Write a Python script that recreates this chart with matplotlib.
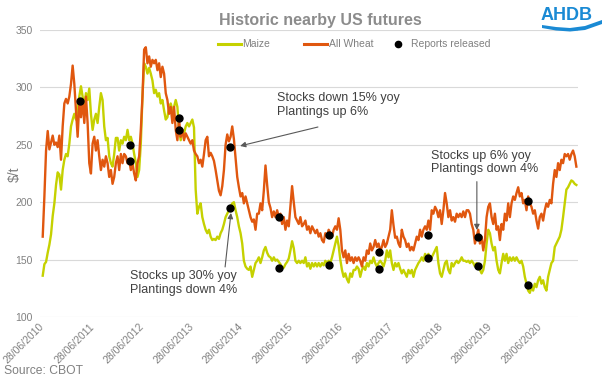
import matplotlib
matplotlib.use("Agg")
import matplotlib.pyplot as plt
import matplotlib.dates as mdates
from matplotlib.lines import Line2D
from matplotlib.patches import Polygon
import pandas as pd

plt.rcParams["font.family"] = ["Liberation Sans", "DejaVu Sans"]

# observations run evenly from first to last date
series_start = "2010-06-29"
series_end = "2021-03-18"

maize = [
    136, 146, 148, 156, 163, 172, 188, 199, 215, 226,
    224, 211, 228, 237, 242, 240, 251, 266, 272, 277,
    272, 283, 292, 301, 292, 283, 295, 289, 299, 277,
    263, 272, 277, 269, 283, 295, 289, 266, 254, 256,
    240, 234, 231, 242, 256, 256, 245, 254, 251, 257,
    254, 263, 254, 257, 251, 242, 234, 222, 228, 251,
    292,
    321, 318, 312, 317, 312, 306, 295, 298, 292, 295,
    286, 289, 280, 272, 274, 283, 286, 280, 283, 289,
    283, 263, 254, 263, 260, 266, 269, 266, 269, 272,
    265, 211, 190, 196, 199, 187, 181, 176, 173, 176,
    170, 167, 168, 167, 170, 168, 173, 176, 181, 187,
    190, 193, 196, 199, 200, 193, 187, 179, 173, 164,
    149, 144, 142, 141, 144,
    135, 141, 147, 149, 152, 147, 152, 158, 161, 156,
    153, 152, 149, 152, 149, 150, 148, 146, 143, 143,
    146, 148, 151, 158, 166, 160, 149, 147, 149, 147,
    149, 147, 152, 144, 147, 142, 147, 144, 147, 144,
    147, 144, 147, 145, 149, 147, 149, 147, 152, 158,
    164, 170, 162, 150, 141, 135, 138, 133, 130, 138,
    135, 141, 141, 144, 142,
    135, 141, 144, 141, 147, 144, 149, 147, 152, 147,
    144, 147, 149, 147, 144, 149, 158, 152, 158, 147,
    141, 147, 144, 147, 142, 138, 141, 138, 135, 141,
    138, 141, 135, 141, 144, 147, 149, 152, 149, 155,
    152, 155, 149, 152, 155, 158, 161, 147, 138, 135,
    141, 147, 149, 141, 138, 147, 144, 147, 149, 147,
    149, 152, 149, 149, 148,
    149, 147, 149, 147, 144, 147, 144, 141, 138, 141,
    149, 164, 176, 173, 164, 158, 161, 149, 141, 138,
    147, 155, 149, 155, 147, 152, 149, 152, 149, 152,
    149, 147, 149, 144, 135, 129, 123, 121, 126, 123,
    129, 126, 132, 135, 129, 132, 126, 123, 135, 141,
    147, 149, 161, 164, 167, 170, 176, 187, 199, 211,
    213, 216, 219, 218, 216, 215,
]

wheat = [
    170, 205, 245, 262, 246, 252, 258, 250, 252, 248,
    258, 237, 266, 286, 290, 286, 292, 303, 319, 303,
    280, 257, 286, 274, 289, 269, 292, 269, 234, 225,
    251, 257, 245, 254, 240, 228, 237, 231, 240, 234,
    222, 228, 216, 222, 234, 240, 228, 242, 234, 242,
    240, 234, 237, 228, 234, 225, 219, 234, 240, 263,
    292,
    333, 335, 321, 327, 318, 324, 321, 324, 315, 321,
    309, 318, 312, 295, 289, 277, 283, 269, 283, 263,
    254, 272, 257, 263, 254, 260, 257, 254, 251, 254,
    245, 242, 240, 234, 237, 231, 242, 254, 257, 240,
    243, 240, 236, 228, 219, 210, 206, 214, 228, 250,
    259, 253, 257, 266, 255, 238, 222, 213, 205, 208,
    199, 205, 199, 193, 187,
    183, 185, 176, 190, 190, 199, 193, 210, 232, 215,
    200, 195, 187, 192, 187, 193, 187, 190, 181, 187,
    176, 184, 179, 196, 214, 200, 187, 184, 181, 187,
    179, 181, 184, 176, 179, 173, 179, 176, 173, 176,
    170, 173, 167, 165, 173, 170, 176, 173, 170, 176,
    179, 176, 186, 176, 158, 152, 158, 147, 155, 149,
    152, 147, 152, 149, 152,
    149, 144, 152, 149, 158, 155, 164, 158, 161, 167,
    161, 164, 158, 161, 167, 161, 164, 170, 176, 193,
    180, 169, 170, 164, 161, 176, 170, 167, 161, 164,
    158, 161, 158, 164, 170, 167, 176, 170, 176, 179,
    176, 184, 176, 193, 190, 196, 193, 187, 193, 181,
    193, 208, 199, 187, 193, 184, 187, 183, 190, 187,
    190, 187, 192, 187, 193,
    193, 190, 181, 176, 164, 170, 176, 164, 170, 158,
    167, 187, 196, 199, 187, 181, 190, 176, 179, 167,
    181, 176, 190, 184, 199, 187, 199, 205, 202, 208,
    213, 205, 208, 199, 202, 193, 205, 199, 196, 190,
    193, 184, 177, 187, 190, 184, 193, 199, 196, 202,
    199, 216, 228, 222, 234, 228, 237, 234, 242, 240,
    242, 237, 242, 245, 240, 231,
]

report_dates = [
    "2011-03-31", "2012-03-30", "2012-03-30", "2013-03-28", "2013-03-28",
    "2014-03-31", "2014-03-31", "2015-03-31", "2015-03-31", "2016-03-31",
    "2016-03-31", "2017-03-31", "2017-03-31", "2018-03-29", "2018-03-29",
    "2019-03-29", "2019-03-29", "2020-03-31", "2020-03-31",
]
report_values = [288, 250, 236, 273, 263, 248, 195, 187, 143, 171,
                 145, 157, 142, 171, 151, 170, 144, 201, 128]

tick_dates = [f"{year}-06-28" for year in range(2010, 2021)]

MAIZE_COLOR = "#c5d100"
WHEAT_COLOR = "#e0570f"
GREY = "#808080"
TEXT_DARK = "#404040"

W, H = 602, 380


def fx(px):
    return px / W


def fy(py):
    return 1 - py / H


dates = pd.date_range(series_start, series_end, periods=len(maize))

fig = plt.figure(figsize=(6.02, 3.80), dpi=100)
ax = fig.add_axes([fx(40), fy(317), fx(538), 287 / H])

ax.plot(dates, maize, color=MAIZE_COLOR, lw=1.7, zorder=2)
ax.plot(dates, wheat, color=WHEAT_COLOR, lw=1.7, zorder=3)
ax.plot(pd.to_datetime(report_dates), report_values, "o", color="black",
        markersize=5, zorder=4)

ax.set_ylim(100, 350)
ax.set_yticks(range(100, 351, 50))
ax.set_xlim(pd.Timestamp("2010-06-09"), pd.Timestamp("2021-03-30"))
ax.set_xticks(pd.to_datetime(tick_dates))
ax.xaxis.set_major_formatter(mdates.DateFormatter("%d/%m/%Y"))
ax.grid(axis="y", color="#d9d9d9", lw=0.8)
ax.set_axisbelow(True)
for spine in ax.spines.values():
    spine.set_visible(False)
ax.tick_params(axis="both", length=0, colors=GREY, labelsize=7.5)
ax.tick_params(axis="y", pad=5)
ax.tick_params(axis="x", pad=6)
for label in ax.get_xticklabels():
    label.set_rotation(45)
    label.set_rotation_mode("anchor")
    label.set_ha("right")
    label.set_va("center")

fig.text(fx(15), fy(174), "$/t", fontsize=10, color=GREY, rotation=90,
         ha="center", va="center")

# annotations
note_kw = dict(fontsize=9, color=TEXT_DARK, va="center", ha="left", linespacing=1.15)
arrow_kw = dict(arrowstyle="-|>", color="#595959", lw=0.8, mutation_scale=8,
                shrinkA=0, shrinkB=0)
ax.text(pd.Timestamp("2015-03-14"), 284.7, "Stocks down 15% yoy\nPlantings up 6%", **note_kw)
ax.annotate("", xy=(pd.Timestamp("2014-06-16"), 249),
            xytext=(pd.Timestamp("2016-01-08"), 265.5), arrowprops=arrow_kw)
ax.text(pd.Timestamp("2012-03-31"), 129.6, "Stocks up 30% yoy\nPlantings down 4%", **note_kw)
ax.annotate("", xy=(pd.Timestamp("2014-04-10"), 190.6),
            xytext=(pd.Timestamp("2014-02-26"), 143.6), arrowprops=arrow_kw)
ax.text(pd.Timestamp("2018-04-16"), 234.7, "Stocks up 6% yoy\nPlantings down 4%", **note_kw)
ax.annotate("", xy=(pd.Timestamp("2019-03-19"), 175.8),
            xytext=(pd.Timestamp("2019-03-19"), 217.9), arrowprops=arrow_kw)

# title
fig.text(fx(320), fy(21), "Historic nearby US futures", fontsize=11.5,
         fontweight="bold", color="#8c8c8c", ha="center", va="center")

# legend drawn by hand to match spacing
legend_y = fy(44)
fig.add_artist(Line2D([fx(218), fx(241)], [legend_y, legend_y], color=MAIZE_COLOR, lw=2.2))
fig.text(fx(242), legend_y, "Maize", fontsize=7.5, color=GREY, va="center")
fig.add_artist(Line2D([fx(304), fx(327)], [legend_y, legend_y], color=WHEAT_COLOR, lw=2.2))
fig.text(fx(329), legend_y, "All Wheat", fontsize=7.5, color=GREY, va="center")
fig.add_artist(Line2D([fx(398)], [legend_y], marker="o", color="black", markersize=4.5, lw=0))
fig.text(fx(411), legend_y, "Reports released", fontsize=7.5, color=GREY, va="center")

# source
fig.text(fx(4), fy(371), "Source: CBOT", fontsize=8.7, color=GREY, va="center")

# AHDB logo
fig.text(fx(593), fy(20), "AHDB", fontsize=13, fontweight="bold", color="#1a8ad4",
         ha="right", va="baseline")
swoosh = [(542, 25), (556, 27), (570, 28), (585, 26), (602, 20),
          (602, 24), (585, 30), (570, 31.5), (556, 30.5), (542, 28)]
fig.add_artist(Polygon([(fx(x), fy(y)) for x, y in swoosh], closed=True,
                       facecolor="#1a8ad4", edgecolor="none", transform=fig.transFigure))

fig.savefig("out.png", dpi=100)
